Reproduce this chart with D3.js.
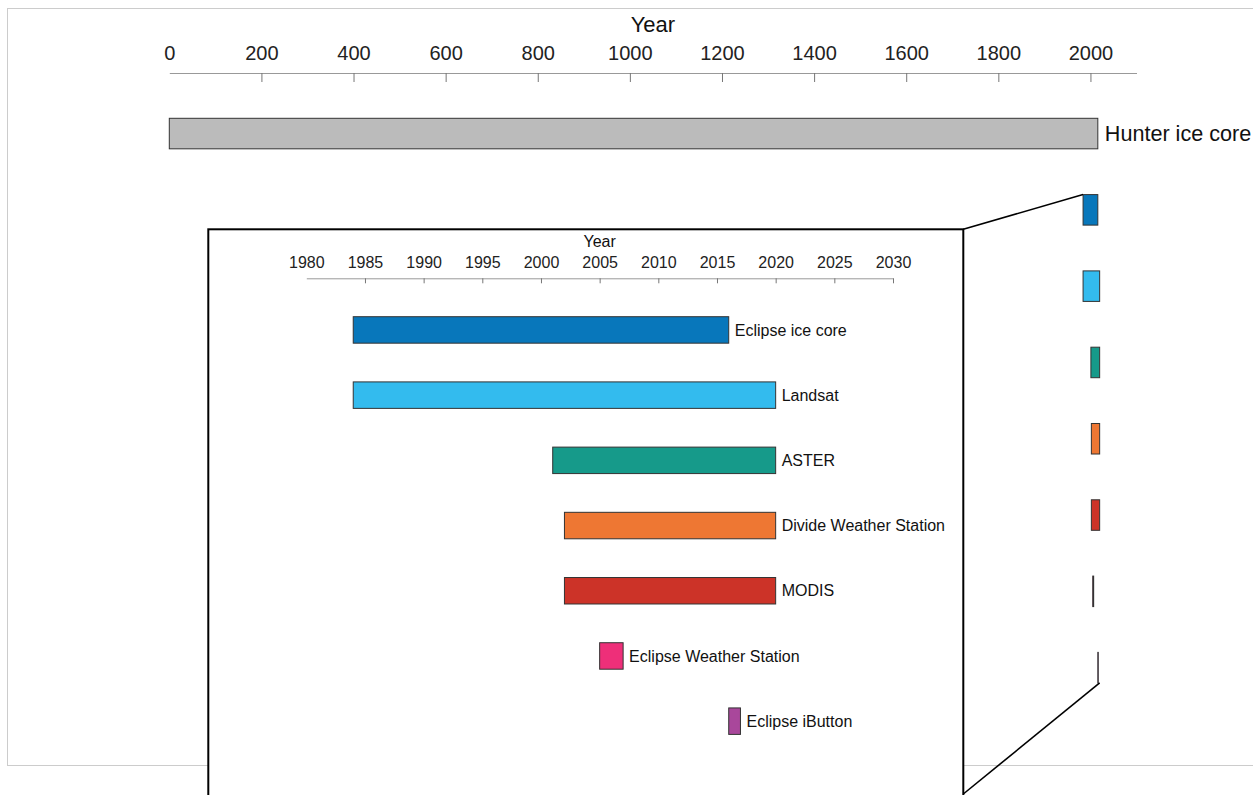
<!DOCTYPE html>
<html>
<head>
<meta charset="UTF-8">
<title>Record timeline</title>
<style>
body { margin: 0; background: #fff; }
svg text { font-family: "Liberation Sans", Arial, Helvetica, sans-serif; }
.bars rect { stroke: #333; stroke-width: 1; }
</style>
</head>
<body>
<svg id="chart"></svg>
<script src="https://cdnjs.cloudflare.com/ajax/libs/d3/7.8.5/d3.min.js"></script>
<script>

// records, first one is the long core, the rest get the zoomed view
var names = ["Hunter ice core", "Eclipse ice core", "Landsat", "ASTER",
  "Divide Weather Station", "MODIS", "Eclipse Weather Station", "Eclipse iButton"];
var starts = [0, 1984, 1984, 2001, 2002, 2002, 2005, 2016];
var ends = [2016, 2016, 2020, 2020, 2020, 2020, 2007, 2017];
var colors = ["#bbbbbb", "#0877bb", "#33bbee", "#169a8a", "#ee7733", "#cc3328", "#ee2f79", "#a9479b"];

var mainTicks = [0, 200, 400, 600, 800, 1000, 1200, 1400, 1600, 1800, 2000];
var zoomTicks = [1980, 1985, 1990, 1995, 2000, 2005, 2010, 2015, 2020, 2025, 2030];

var W = 1253, H = 795;

var rows = names.map(function (n, i) {
  return { name: n, start: starts[i], end: ends[i], color: colors[i] };
});
var zoomRows = rows.slice(1);

var svg = d3.select('#chart').attr('width', W).attr('height', H);

// light frame around the figure
svg.append('rect')
  .attr('x', 7.5).attr('y', 8.5)
  .attr('width', 1300).attr('height', 757)
  .attr('fill', 'none').attr('stroke', '#cccccc');

// ---- main timeline ----
var x = d3.scaleLinear().domain([0, 2100]).range([169.3, 1136.5]);
var y = d3.scaleBand().domain(names).range([118.3, 682.9]).paddingInner(0.6).paddingOuter(0);

function styleAxis(g, size, labelColor) {
  g.select('.domain').attr('stroke', '#999');
  g.selectAll('.tick line').attr('stroke', '#777');
  g.selectAll('.tick text').attr('fill', labelColor).style('font-size', size + 'px')
    .attr('font-family', null);
  g.attr('font-family', null);
  // first value has a label but no tick mark
  g.selectAll('.tick line').filter(function (d, i) { return i === 0; }).remove();
}

var mainAxis = svg.append('g')
  .attr('transform', 'translate(0,73)')
  .call(d3.axisTop(x).tickValues(mainTicks).tickFormat(d3.format('d'))
    .tickSizeInner(-9).tickSizeOuter(0).tickPadding(13));
styleAxis(mainAxis, 20, '#222');

svg.append('text')
  .attr('x', (x.range()[0] + x.range()[1]) / 2).attr('y', 31.5)
  .attr('text-anchor', 'middle').style('font-size', '22px').attr('fill', '#111')
  .text('Year');

svg.append('g').attr('class', 'bars')
  .selectAll('rect').data(rows).enter().append('rect')
  .attr('x', function (d) { return x(d.start); })
  .attr('y', function (d) { return y(d.name); })
  .attr('width', function (d) { return x(d.end) - x(d.start); })
  .attr('height', y.bandwidth())
  .attr('fill', function (d) { return d.color; });

svg.append('text')
  .attr('x', x(rows[0].end) + 7)
  .attr('y', y(rows[0].name) + y.bandwidth() / 2)
  .attr('dy', '0.35em').style('font-size', '21.6px').attr('fill', '#111')
  .text(rows[0].name);

// ---- zoomed inset ----
var inset = { left: 208.3, top: 229.3, right: 963.3, bottom: 798 };

var zStart = d3.min(zoomRows, function (d) { return d.start; });
var zEnd = d3.max(zoomRows, function (d) { return d.end; });
var first = zoomRows[0].name, last = zoomRows[zoomRows.length - 1].name;

// connector lines from the inset corners to the zoomed part of the main chart
svg.append('line')
  .attr('x1', inset.right).attr('y1', inset.top)
  .attr('x2', x(zStart)).attr('y2', y(first))
  .attr('stroke', '#000').attr('stroke-width', 1.6);
svg.append('line')
  .attr('x1', inset.right).attr('y1', 794)
  .attr('x2', x(zEnd)).attr('y2', y(last) + y.bandwidth())
  .attr('stroke', '#000').attr('stroke-width', 1.6);

svg.append('rect')
  .attr('x', inset.left).attr('y', inset.top)
  .attr('width', inset.right - inset.left).attr('height', inset.bottom - inset.top)
  .attr('fill', '#fff').attr('stroke', '#000').attr('stroke-width', 2);

var zx = d3.scaleLinear().domain([1980, 2030]).range([306.3, 893]);
var zy = d3.scaleBand().domain(zoomRows.map(function (d) { return d.name; }))
  .range([316.7, 734.4]).paddingInner(0.594).paddingOuter(0);

var zoomAxis = svg.append('g')
  .attr('transform', 'translate(0,278.3)')
  .call(d3.axisTop(zx).tickValues(zoomTicks).tickFormat(d3.format('d'))
    .tickSizeInner(-5).tickSizeOuter(0).tickPadding(10));
styleAxis(zoomAxis, 16, '#222');

svg.append('text')
  .attr('x', (zx.range()[0] + zx.range()[1]) / 2).attr('y', 247)
  .attr('text-anchor', 'middle').style('font-size', '16px').attr('fill', '#111')
  .text('Year');

svg.append('g').attr('class', 'bars')
  .selectAll('rect').data(zoomRows).enter().append('rect')
  .attr('x', function (d) { return zx(d.start); })
  .attr('y', function (d) { return zy(d.name); })
  .attr('width', function (d) { return zx(d.end) - zx(d.start); })
  .attr('height', zy.bandwidth())
  .attr('fill', function (d) { return d.color; });

svg.append('g')
  .selectAll('text').data(zoomRows).enter().append('text')
  .attr('x', function (d) { return zx(d.end) + 6; })
  .attr('y', function (d) { return zy(d.name) + zy.bandwidth() / 2; })
  .attr('dy', '0.35em').style('font-size', '16px').attr('fill', '#111')
  .text(function (d) { return d.name; });

</script>
</body>
</html>
